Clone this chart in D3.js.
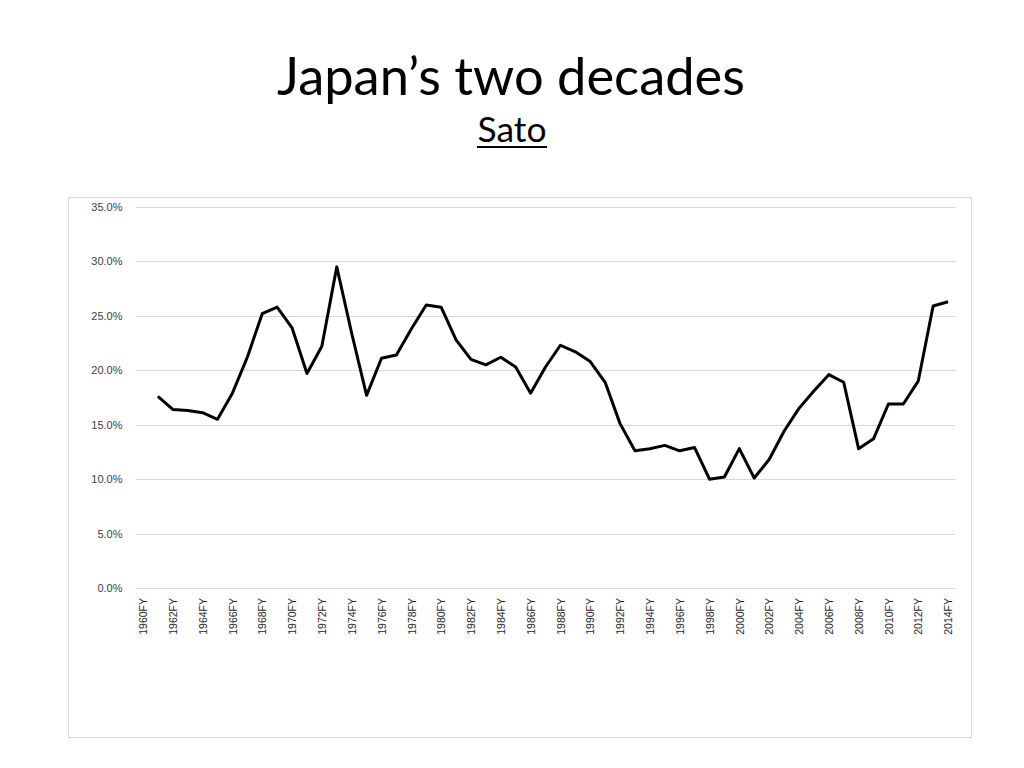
<!DOCTYPE html>
<html>
<head>
<meta charset="utf-8">
<script src="https://cdn.jsdelivr.net/npm/d3@7"></script>
<style>
  body { margin: 0; background: #fff; }
  svg { display: block; }
</style>
</head>
<body>
<div id="chart"></div>
<script>
// DATA ///////////////////////////////////////////////////////////////////////
const fiscalYears = [
  1960, 1961, 1962, 1963, 1964, 1965, 1966, 1967, 1968, 1969,
  1970, 1971, 1972, 1973, 1974, 1975, 1976, 1977, 1978, 1979,
  1980, 1981, 1982, 1983, 1984, 1985, 1986, 1987, 1988, 1989,
  1990, 1991, 1992, 1993, 1994, 1995, 1996, 1997, 1998, 1999,
  2000, 2001, 2002, 2003, 2004, 2005, 2006, 2007, 2008, 2009,
  2010, 2011, 2012, 2013, 2014
];

// share in percent, 1960FY has no value
const shareValues = [
  null, 17.6, 16.4, 16.3, 16.1, 15.5, 17.9, 21.2, 25.2, 25.8,
  23.9, 19.7, 22.2, 29.5, 23.4, 17.7, 21.1, 21.4, 23.8, 26.0,
  25.8, 22.8, 21.0, 20.5, 21.2, 20.3, 17.9, 20.3, 22.3, 21.7,
  20.8, 18.9, 15.1, 12.6, 12.8, 13.1, 12.6, 12.9, 10.0, 10.2,
  12.8, 10.1, 11.8, 14.4, 16.5, 18.1, 19.6, 18.9, 12.8, 13.7,
  16.9, 16.9, 19.0, 25.9, 26.3
];

const yTicks = [0, 5, 10, 15, 20, 25, 30, 35];

const titleText = "Japan\u2019s two decades";
const subtitleText = "Sato";

// LAYOUT /////////////////////////////////////////////////////////////////////
const W = 1024, H = 768;
const plot = { left: 135.5, right: 955.5, top: 207, bottom: 588 };
const frame = { x: 68.5, y: 197.5, w: 903, h: 540 };

const svg = d3.select("#chart")
  .append("svg")
  .attr("width", W)
  .attr("height", H);

// title, fitted to the width of the reference
const fitText = (sel, targetWidth) => {
  let size = parseFloat(sel.attr("font-size"));
  const w = sel.node().getComputedTextLength();
  sel.attr("font-size", size * targetWidth / w);
};

const title = svg.append("text")
  .attr("x", 511)
  .attr("y", 95)
  .attr("text-anchor", "middle")
  .attr("font-family", "Lato, 'Open Sans', sans-serif")
  .attr("font-size", 56)
  .attr("fill", "#000")
  .text(titleText);
fitText(title, 468);

const sub = svg.append("text")
  .attr("x", 512)
  .attr("y", 142)
  .attr("text-anchor", "middle")
  .attr("font-family", "Lato, 'Open Sans', sans-serif")
  .attr("font-size", 32)
  .attr("fill", "#000")
  .text(subtitleText);
fitText(sub, 69);

svg.append("line")
  .attr("x1", 477).attr("x2", 547)
  .attr("y1", 147).attr("y2", 147)
  .attr("stroke", "#000")
  .attr("stroke-width", 2);

// chart frame
svg.append("rect")
  .attr("x", frame.x).attr("y", frame.y)
  .attr("width", frame.w).attr("height", frame.h)
  .attr("fill", "#fff")
  .attr("stroke", "#d9d9d9")
  .attr("stroke-width", 1);

// SCALES /////////////////////////////////////////////////////////////////////
const x = d3.scalePoint()
  .domain(fiscalYears)
  .range([plot.left, plot.right])
  .padding(0.5);

const y = d3.scaleLinear()
  .domain([0, 35])
  .range([plot.bottom, plot.top]);

// gridlines
svg.append("g")
  .selectAll("line")
  .data(yTicks)
  .enter()
  .append("line")
  .attr("x1", plot.left)
  .attr("x2", plot.right)
  .attr("y1", d => Math.round(y(d)) + 0.5)
  .attr("y2", d => Math.round(y(d)) + 0.5)
  .attr("stroke", "#d9d9d9")
  .attr("stroke-width", 1);

// y axis labels
const yAxis = svg.append("g")
  .attr("transform", "translate(" + (plot.left - 13) + ",0)")
  .call(d3.axisLeft(y).tickValues(yTicks).tickSize(0).tickPadding(0)
    .tickFormat(d => d3.format(".1f")(d) + "%"));
yAxis.select(".domain").remove();
yAxis.selectAll("text")
  .attr("font-family", "'Liberation Sans', Arial, sans-serif")
  .attr("font-size", 11)
  .attr("fill", "#404040");

// x axis labels, every other year
const xAxis = svg.append("g")
  .attr("transform", "translate(0," + plot.bottom + ")")
  .call(d3.axisBottom(x)
    .tickValues(fiscalYears.filter((d, i) => i % 2 === 0))
    .tickSize(0)
    .tickFormat(d => d + "FY"));
xAxis.select(".domain").remove();
xAxis.selectAll("text")
  .attr("font-family", "'Liberation Sans', Arial, sans-serif")
  .attr("font-size", 10.5)
  .attr("fill", "#262626")
  .attr("text-anchor", "end")
  .attr("dy", "0.35em")
  .attr("x", -10)
  .attr("y", 0)
  .attr("transform", "rotate(-90)");

// line
const line = d3.line()
  .defined(d => d[1] != null)
  .x(d => x(d[0]))
  .y(d => y(d[1]));

svg.append("path")
  .datum(fiscalYears.map((yr, i) => [yr, shareValues[i]]))
  .attr("d", line)
  .attr("fill", "none")
  .attr("stroke", "#000")
  .attr("stroke-width", 3)
  .attr("stroke-linejoin", "round");
</script>
</body>
</html>
